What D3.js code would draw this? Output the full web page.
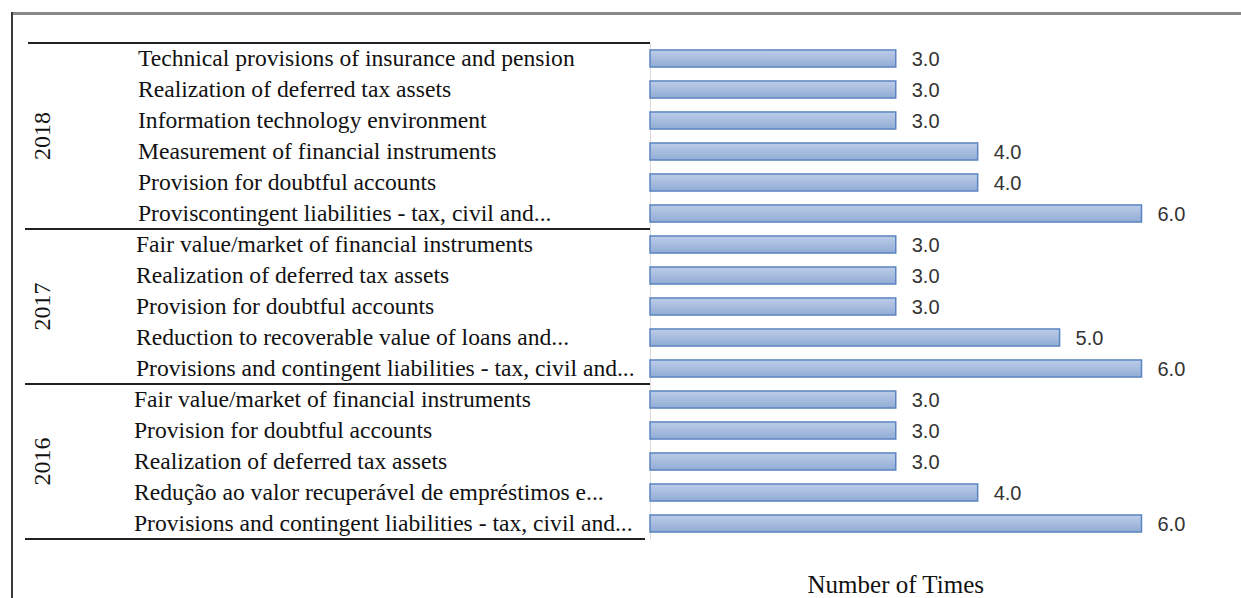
<!DOCTYPE html>
<html lang="en">
  <head>
    <meta charset="UTF-8" />
    <title>Number of Times</title>
    <script src="https://cdn.jsdelivr.net/npm/d3@7"></script>
    <style>
      body { margin: 0; background: #fff; }
      svg { display: block; }
    </style>
  </head>
  <body>
    <svg width="1241" height="598"></svg>
    <script>
      // groups shown top to bottom
      const years = ["2018", "2017", "2016"];

      const items2018 = [
        "Technical provisions of insurance and pension",
        "Realization of deferred tax assets",
        "Information technology environment",
        "Measurement of financial instruments",
        "Provision for doubtful accounts",
        "Proviscontingent liabilities - tax, civil and..."
      ];
      const values2018 = [3, 3, 3, 4, 4, 6];

      const items2017 = [
        "Fair value/market of financial instruments",
        "Realization of deferred tax assets",
        "Provision for doubtful accounts",
        "Reduction to recoverable value of loans and...",
        "Provisions and contingent liabilities - tax, civil and..."
      ];
      const values2017 = [3, 3, 3, 5, 6];

      const items2016 = [
        "Fair value/market of financial instruments",
        "Provision for doubtful accounts",
        "Realization of deferred tax assets",
        "Redução ao valor recuperável de empréstimos e...",
        "Provisions and contingent liabilities - tax, civil and..."
      ];
      const values2016 = [3, 3, 3, 4, 6];

      const axisTitle = "Number of Times";

      const groups = [
        { year: years[0], items: items2018, values: values2018 },
        { year: years[1], items: items2017, values: values2017 },
        { year: years[2], items: items2016, values: values2016 }
      ];

      // flatten into rows
      const rows = [];
      groups.forEach((g, gi) => {
        g.items.forEach((name, i) => {
          rows.push({ key: gi + "|" + i, group: gi, name: name, value: g.values[i] });
        });
      });

      const svg = d3.select("svg");

      const y = d3.scaleBand()
        .domain(rows.map(d => d.key))
        .range([43, 539])
        .paddingInner(0.45)
        .paddingOuter(0.225);
      const x = d3.scaleLinear().domain([0, 6]).range([650, 1141.5]);

      // outer frame
      svg.append("line")
        .attr("x1", 12).attr("x2", 1241).attr("y1", 13.5).attr("y2", 13.5)
        .attr("stroke", "#8a8a8a").attr("stroke-width", 3);
      svg.append("line")
        .attr("x1", 12).attr("x2", 12).attr("y1", 12).attr("y2", 598)
        .attr("stroke", "#3a3a3a").attr("stroke-width", 2);

      const defs = svg.append("defs");
      const grad = defs.append("linearGradient")
        .attr("id", "barFill").attr("x1", 0).attr("x2", 0).attr("y1", 0).attr("y2", 1);
      grad.append("stop").attr("offset", "0%").attr("stop-color", "#bccde8");
      grad.append("stop").attr("offset", "50%").attr("stop-color", "#a7bcde");
      grad.append("stop").attr("offset", "100%").attr("stop-color", "#91acd5");

      // value axis line (light) at zero
      const yAxis = d3.axisLeft(y).tickSize(0).tickSizeOuter(0).tickFormat("");
      const yAxisG = svg.append("g")
        .attr("transform", `translate(${x(0)},0)`)
        .call(yAxis);
      yAxisG.select(".domain").attr("stroke", "#d9d9d9");

      // bars
      svg.append("g")
        .selectAll("rect")
        .data(rows)
        .join("rect")
        .attr("x", x(0))
        .attr("y", d => y(d.key))
        .attr("width", d => x(d.value) - x(0))
        .attr("height", y.bandwidth())
        .attr("fill", "url(#barFill)")
        .attr("stroke", "#5b85c2")
        .attr("stroke-width", 1.5);

      // value labels
      svg.append("g")
        .selectAll("text")
        .data(rows)
        .join("text")
        .attr("x", d => x(d.value) + 16)
        .attr("y", d => y(d.key) + y.bandwidth() / 2 + 7)
        .attr("font-family", "'Liberation Sans', Arial, sans-serif")
        .attr("font-size", 20)
        .attr("fill", "#333")
        .text(d => d.value.toFixed(1));

      // category labels (each year block sits a little further left)
      svg.append("g")
        .selectAll("text")
        .data(rows)
        .join("text")
        .attr("x", d => 138 - 2 * d.group)
        .attr("y", d => y(d.key) + y.bandwidth() / 2 + 7.8)
        .attr("font-family", "'Liberation Serif', 'Times New Roman', serif")
        .attr("font-size", 23.6)
        .attr("fill", "#111")
        .text(d => d.name);

      // group separators and year labels
      const step = y.step();
      const edge = k => y(k) - step * y.paddingInner() / 2;
      const bounds = groups.map((g, gi) => {
        const keys = rows.filter(r => r.group === gi).map(r => r.key);
        return [gi === 0 ? 43 : edge(keys[0]), edge(keys[keys.length - 1]) + step];
      });
      bounds[bounds.length - 1][1] = 539;

      const sep = svg.append("g").attr("stroke", "#222").attr("stroke-width", 2);
      sep.append("line").attr("x1", 28).attr("x2", 650).attr("y1", bounds[0][0]).attr("y2", bounds[0][0]);
      bounds.forEach((b, i) => {
        sep.append("line")
          .attr("x1", 25).attr("x2", i === bounds.length - 1 ? 645 : 650)
          .attr("y1", b[1]).attr("y2", b[1]);
      });

      svg.append("g")
        .selectAll("text")
        .data(groups)
        .join("text")
        .attr("transform", (d, i) => `translate(50,${(bounds[i][0] + bounds[i][1]) / 2}) rotate(-90)`)
        .attr("text-anchor", "middle")
        .attr("font-family", "'Liberation Serif', 'Times New Roman', serif")
        .attr("font-size", 24)
        .attr("fill", "#111")
        .text(d => d.year);

      // axis title
      svg.append("text")
        .attr("x", (x(0) + x(6)) / 2)
        .attr("y", 593)
        .attr("text-anchor", "middle")
        .attr("font-family", "'Liberation Serif', 'Times New Roman', serif")
        .attr("font-size", 25)
        .attr("fill", "#111")
        .text(axisTitle);
    </script>
  </body>
</html>
